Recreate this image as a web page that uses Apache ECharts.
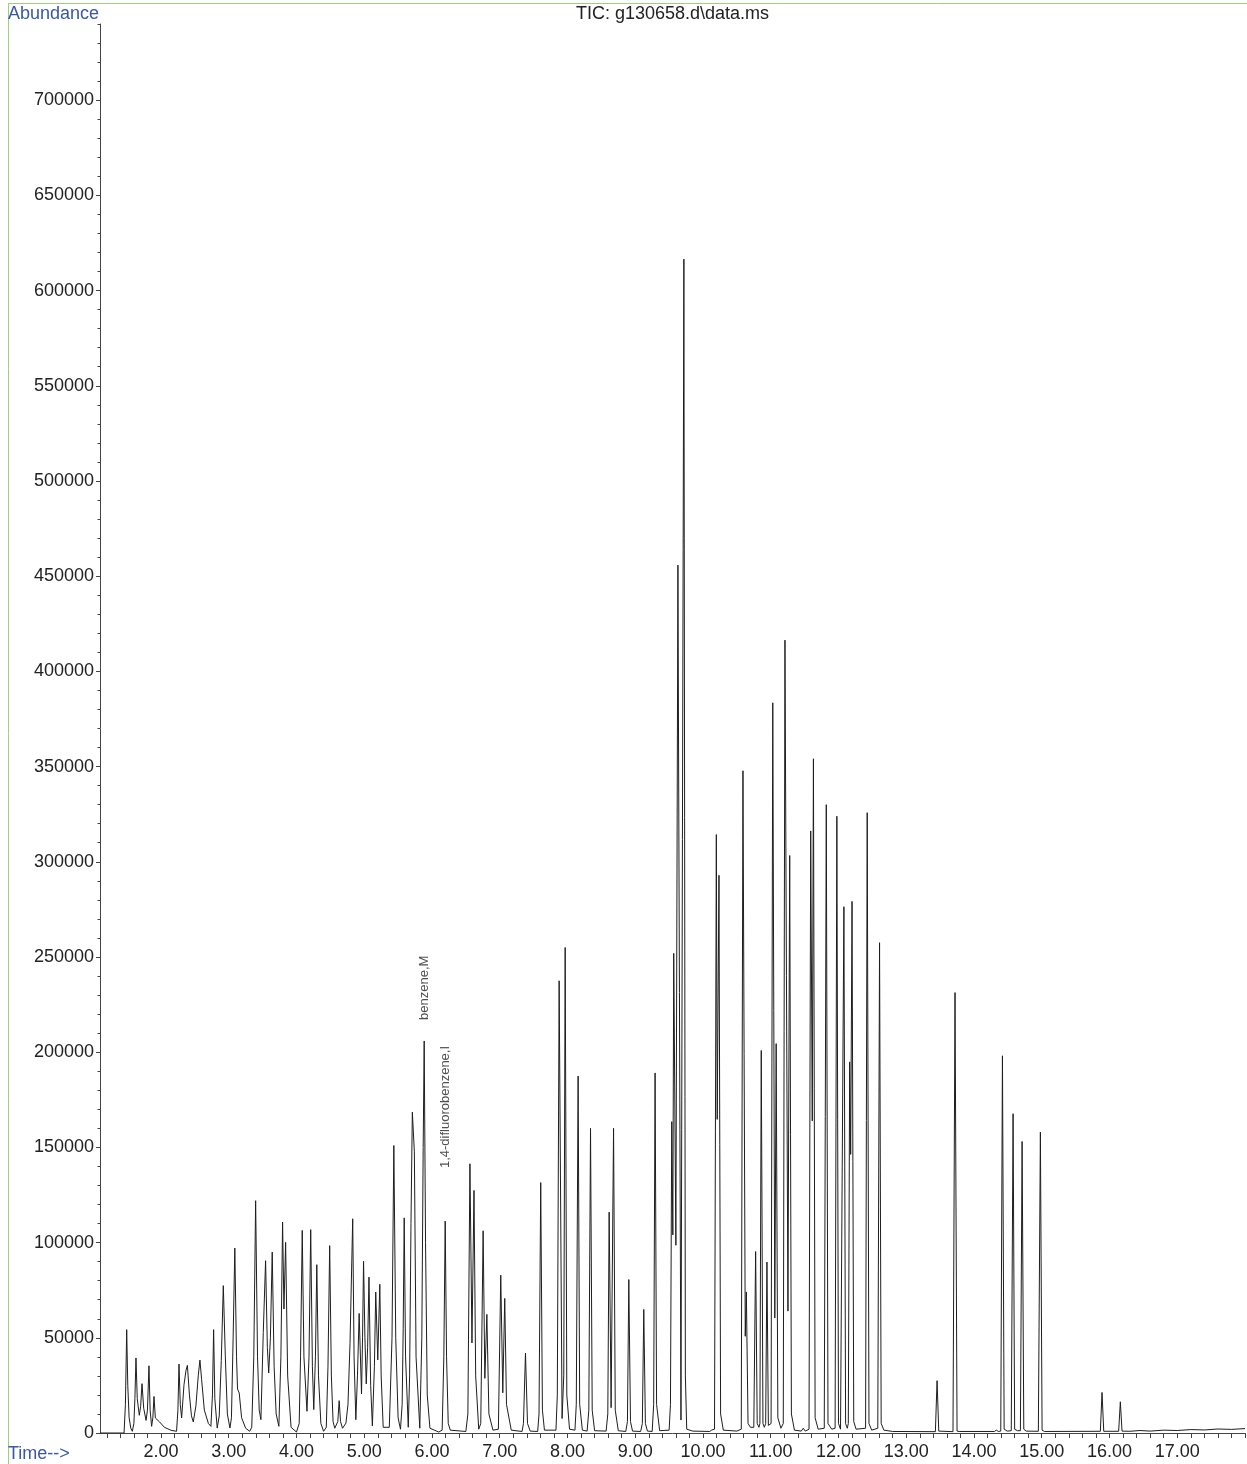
<!DOCTYPE html>
<html>
<head>
<meta charset="utf-8">
<script src="https://cdn.jsdelivr.net/npm/echarts@6/dist/echarts.min.js"></script>
<style>
html,body{margin:0;padding:0;background:#fff;}
#c{width:1247px;height:1464px;}
</style>
</head>
<body>
<div id="c"></div>
<script>
// ---- data: [time (min), abundance] ----
const traceA = [
  [1.10, 0], [1.455, 0], [1.475, 15000], [1.494, 54300], [1.51, 25000], [1.53, 8000],
  [1.555, 2500], [1.577, 900], [1.60, 5000], [1.615, 18000], [1.631, 39400],
  [1.65, 18000], [1.68, 9300], [1.70, 14000], [1.72, 25900], [1.745, 13000],
  [1.78, 6600], [1.80, 12000], [1.823, 35300], [1.84, 12000], [1.862, 3500],
  [1.88, 8000], [1.897, 19200], [1.917, 7900], [1.98, 5800], [2.05, 3000],
  [2.15, 1400], [2.23, 900], [2.25, 12000], [2.266, 36200], [2.285, 15000],
  [2.305, 7900], [2.34, 25400], [2.37, 33000], [2.39, 35500], [2.42, 20000],
  [2.45, 9000], [2.477, 5800], [2.516, 14300], [2.55, 30000], [2.575, 38300],
  [2.60, 28000], [2.64, 12000], [2.70, 5000], [2.737, 3500], [2.76, 20000],
  [2.777, 54300], [2.795, 18000], [2.83, 2600], [2.86, 9000], [2.89, 38000],
  [2.92, 77400], [2.95, 40000], [2.98, 10000], [3.018, 2600], [3.04, 8000],
  [3.065, 50000], [3.09, 97100], [3.115, 40000], [3.13, 23100], [3.155, 21000],
  [3.19, 8000], [3.25, 2500], [3.31, 900]
];
const traceB = [
  [3.34, 3000], [3.37, 40000], [3.397, 122000], [3.425, 40000], [3.45, 12000],
  [3.475, 7000], [3.51, 52800], [3.544, 90500], [3.57, 45000], [3.59, 31500],
  [3.615, 50000], [3.642, 95000], [3.67, 35000], [3.70, 10000], [3.74, 3500],
  [3.77, 40000], [3.795, 110800], [3.815, 65100], [3.84, 100100], [3.87, 30000],
  [3.92, 3000], [4.00, 500], [4.04, 5000], [4.06, 40000], [4.085, 106400],
  [4.11, 40000], [4.155, 11400], [4.185, 40000], [4.21, 106800], [4.235, 35000],
  [4.255, 12300], [4.28, 40000], [4.30, 88400], [4.325, 30000], [4.36, 5000],
  [4.40, 900], [4.44, 3000], [4.465, 35000], [4.49, 98400], [4.515, 30000],
  [4.54, 6000], [4.565, 2500], [4.61, 6000], [4.63, 17000], [4.65, 6000],
  [4.68, 2500], [4.73, 5200], [4.76, 15000], [4.79, 46900]
];
const traceC = [
  [4.83, 112500], [4.85, 40000], [4.876, 7000], [4.90, 30000], [4.925, 62800],
  [4.96, 20500], [4.975, 50000], [4.99, 90200], [5.01, 50000], [5.03, 25800],
  [5.05, 45000], [5.07, 81900], [5.095, 25000], [5.12, 3700], [5.15, 35000],
  [5.17, 74000], [5.20, 38400], [5.23, 78100], [5.25, 30000], [5.28, 3000],
  [5.37, 3000], [5.41, 50000], [5.437, 151000], [5.465, 50000], [5.50, 8000],
  [5.535, 2000], [5.56, 15000], [5.575, 55000], [5.59, 113000], [5.61, 40000],
  [5.65, 3000], [5.67, 30000], [5.69, 110000], [5.71, 168500], [5.74, 147700],
  [5.765, 40000], [5.82, 2500], [5.85, 50000], [5.87, 150000], [5.885, 205900],
  [5.905, 100000], [5.93, 20000], [5.97, 2500], [6.10, 500], [6.15, 1500],
  [6.175, 40000], [6.195, 111300], [6.215, 40000], [6.24, 5000], [6.27, 1500]
];
const traceD = [
  [6.50, 800], [6.53, 10000], [6.56, 141400], [6.59, 47300], [6.62, 127400],
  [6.645, 30000], [6.69, 2000], [6.72, 5000], [6.755, 106200], [6.78, 28700],
  [6.81, 62300], [6.84, 10000], [6.90, 1500], [6.98, 2000], [7.015, 82900],
  [7.045, 21100], [7.074, 70700], [7.10, 15000], [7.17, 1500], [7.33, 800],
  [7.35, 5000], [7.38, 42000], [7.41, 5000], [7.45, 1000], [7.56, 800],
  [7.58, 10000], [7.605, 131500], [7.63, 12000], [7.66, 1500]
];
const traceE = [
  [7.83, 1500], [7.85, 20000], [7.877, 237500], [7.92, 7600], [7.945, 30000],
  [7.966, 255000], [7.99, 20000], [8.03, 2000], [8.11, 1500], [8.13, 15000],
  [8.157, 187500], [8.18, 15000], [8.22, 1500], [8.29, 1000], [8.315, 12000],
  [8.34, 160000], [8.365, 12000], [8.40, 1200], [8.57, 1000], [8.595, 10000],
  [8.615, 116000], [8.644, 13300], [8.68, 160000], [8.705, 12000], [8.75, 1200],
  [8.86, 800], [8.885, 6000], [8.905, 80600], [8.93, 6000], [8.96, 1000],
  [9.08, 800], [9.105, 5000], [9.126, 64900], [9.15, 5000], [9.18, 1000],
  [9.25, 800], [9.272, 15000], [9.293, 189100], [9.315, 15000], [9.36, 1200],
  [9.50, 1500], [9.52, 15000], [9.539, 163500], [9.555, 104000], [9.568, 251900],
  [9.60, 98600], [9.63, 455800], [9.675, 6800], [9.718, 616500], [9.74, 30000],
  [9.76, 2000], [9.85, 1000], [10.10, 800], [10.13, 1600]
];
const traceF = [
  [10.17, 2000], [10.197, 314300], [10.21, 164700], [10.236, 292900], [10.26, 10000],
  [10.30, 1500], [10.50, 1000], [10.565, 2000], [10.59, 347800], [10.624, 50800],
  [10.64, 74100], [10.665, 5000], [10.70, 3000], [10.75, 3000], [10.777, 95300],
  [10.80, 5000], [10.826, 3000], [10.84, 5000], [10.86, 200900], [10.885, 5000],
  [10.905, 3000], [10.925, 5000], [10.944, 89800], [10.965, 4000], [10.98, 3000],
  [11.005, 5000], [11.03, 383500], [11.06, 60400], [11.08, 204500], [11.105, 8000],
  [11.15, 2500], [11.185, 5000], [11.21, 416400], [11.254, 64000], [11.28, 303300],
  [11.305, 10000], [11.35, 1500], [11.45, 1000], [11.48, 2500], [11.51, 1000],
  [11.565, 2000], [11.59, 316200], [11.613, 163900], [11.63, 354100], [11.655, 8000],
  [11.70, 2000], [11.79, 2500], [11.82, 330000], [11.845, 5000], [11.90, 2000],
  [11.95, 2500], [11.976, 323900], [12.00, 5000], [12.03, 2000], [12.055, 2500],
  [12.08, 276400], [12.105, 5000], [12.13, 2500], [12.145, 5000], [12.165, 194900],
  [12.18, 146300], [12.20, 279200], [12.225, 6000], [12.26, 2000], [12.40, 2500],
  [12.424, 325800], [12.45, 5000], [12.49, 1500], [12.58, 2500], [12.606, 257500],
  [12.63, 5000], [12.67, 1500]
];
const traceG = [
  [12.80, 800], [13.43, 700], [13.455, 27500], [13.48, 1000], [13.50, 800],
  [13.69, 700], [13.72, 231300], [13.75, 1000], [13.78, 800], [14.30, 800],
  [14.33, 1500], [14.36, 800], [14.395, 1000], [14.42, 198100], [14.445, 2000],
  [14.49, 1000], [14.55, 1200], [14.577, 167700], [14.60, 2000], [14.64, 1200],
  [14.685, 1200], [14.71, 153100], [14.735, 2000], [14.77, 1000], [14.95, 900],
  [14.98, 158000], [15.005, 1500], [15.04, 800], [15.865, 900], [15.89, 21300],
  [15.915, 900], [16.135, 900], [16.16, 16400], [16.185, 1000], [16.30, 900],
  [16.45, 1300], [16.60, 1000], [16.80, 1500], [17.00, 1300], [17.20, 1800],
  [17.40, 1600], [17.60, 2100], [17.80, 1900], [18.00, 2300]
];

// tick labels
const xTickLabels = [2, 3, 4, 5, 6, 7, 8, 9, 10, 11, 12, 13, 14, 15, 16, 17];
const yTickLabels = [0, 50000, 100000, 150000, 200000, 250000, 300000, 350000,
  400000, 450000, 500000, 550000, 600000, 650000, 700000];

// peak annotations
const peakNames = ['benzene,M', '1,4-difluorobenzene,I'];
const peakTimes = [5.885, 6.195];
const peakHeights = [205900, 111300];

const trace = [].concat(traceA, traceB, traceC, traceD, traceE, traceF, traceG);

// minor tick positions (every 0.2 min / every 10000)
const xMinor = [];
for (let i = 6; i <= 90; i++) xMinor.push(Math.round(i * 20) / 100);
const yMinor = [];
for (let v = 0; v <= 740000; v += 10000) yMinor.push(v);

const FONT = "'Liberation Sans', Arial, sans-serif";
const axisCol = '#444';
const textCol = '#222';
const blue = '#3a57a8';

const chart = echarts.init(document.getElementById('c'), null, {renderer: 'canvas'});
const labelDist = [21, 53];

chart.setOption({
  animation: false,
  backgroundColor: '#fff',
  grid: {left: 100, right: 2, top: 24, bottom: 31, containLabel: false},
  xAxis: [{
    type: 'value', min: 1.1, max: 18,
    axisLine: {show: true, lineStyle: {color: axisCol, width: 1}},
    axisTick: {show: true, inside: false, length: 5, lineStyle: {color: axisCol}, customValues: xMinor},
    axisLabel: {show: true, customValues: xTickLabels, margin: 10, fontSize: 18, color: textCol,
      fontFamily: FONT, formatter: v => v.toFixed(2)},
    splitLine: {show: false}
  }],
  yAxis: [{
    type: 'value', min: 0, max: 740000,
    axisLine: {show: true, lineStyle: {color: axisCol, width: 1}},
    axisTick: {show: true, inside: false, length: 4, lineStyle: {color: axisCol}, customValues: yTickLabels},
    axisLabel: {show: true, customValues: yTickLabels, margin: 6, fontSize: 18, color: textCol,
      fontFamily: FONT, formatter: v => String(v)},
    splitLine: {show: false}
  }, {
    type: 'value', min: 0, max: 740000, position: 'left', offset: 0,
    axisLine: {show: false},
    axisTick: {show: true, inside: false, length: 2.5, lineStyle: {color: axisCol}, customValues: yMinor},
    axisLabel: {show: false},
    splitLine: {show: false}
  }],
  series: [{
    type: 'line',
    data: trace,
    showSymbol: false,
    symbol: 'none',
    sampling: null,
    silent: true,
    lineStyle: {color: '#1e1e1e', width: 1},
    z: 3
  }, {
    type: 'scatter',
    symbolSize: 0,
    silent: true,
    data: peakNames.map((n, i) => ({
      value: [peakTimes[i], peakHeights[i]],
      name: n,
      label: {distance: labelDist[i]}
    })),
    label: {
      show: true, position: 'top', rotate: 90, align: 'left', verticalAlign: 'middle',
      formatter: p => p.name, fontSize: 13, color: textCol, fontFamily: FONT
    },
    z: 4
  }],
  graphic: [
    {type: 'line', shape: {x1: 8.5, y1: 3, x2: 8.5, y2: 1464}, style: {stroke: '#9fcf7c', lineWidth: 1}},
    {type: 'line', shape: {x1: 8, y1: 3.5, x2: 1247, y2: 3.5}, style: {stroke: '#9fcf7c', lineWidth: 1}},
    {type: 'text', x: 8, y: 14, style: {text: 'Abundance', font: '18px ' + FONT, fill: blue,
      textAlign: 'left', textVerticalAlign: 'middle'}},
    {type: 'text', x: 8, y: 1454, style: {text: 'Time-->', font: '18px ' + FONT, fill: blue,
      textAlign: 'left', textVerticalAlign: 'middle'}},
    {type: 'text', x: 672.5, y: 14, style: {text: 'TIC: g130658.d\\data.ms', font: '18px ' + FONT, fill: textCol,
      textAlign: 'center', textVerticalAlign: 'middle'}}
  ]
});
</script>
</body>
</html>
